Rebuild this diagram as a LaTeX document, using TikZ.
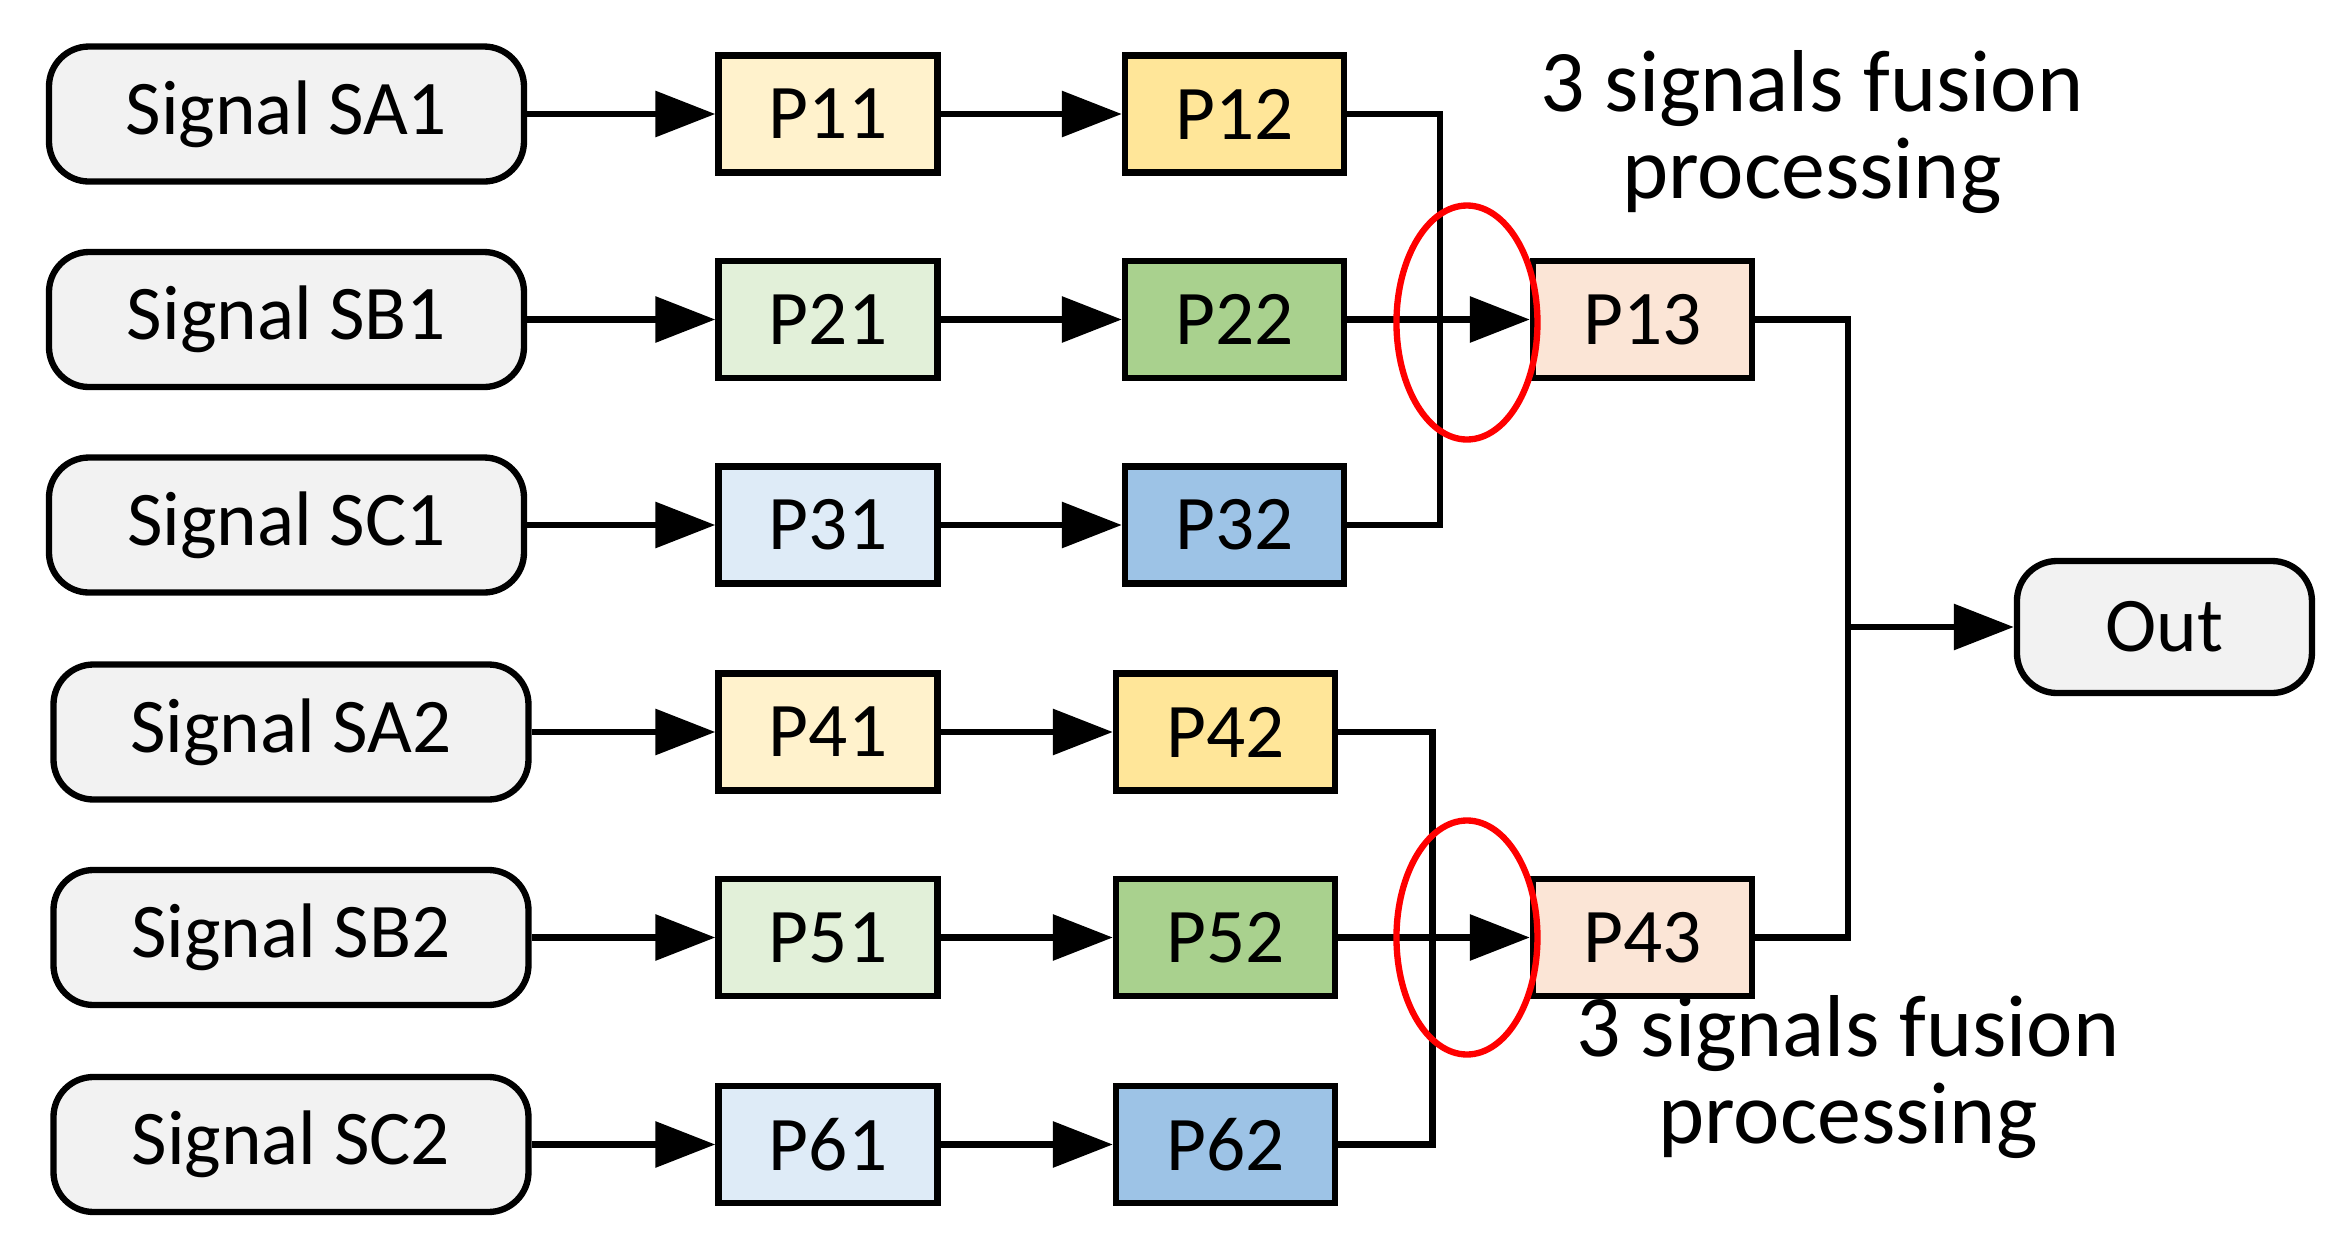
\documentclass[tikz,border=0pt]{standalone}
\usepackage{fontspec}
\setmainfont{Carlito}
\usetikzlibrary{arrows.meta}
\definecolor{sig}{HTML}{F2F2F2}
\definecolor{ya}{HTML}{FFF2CC}
\definecolor{yb}{HTML}{FFE699}
\definecolor{ga}{HTML}{E2F0D9}
\definecolor{gb}{HTML}{A9D18E}
\definecolor{ba}{HTML}{DEEBF7}
\definecolor{bb}{HTML}{9DC3E6}
\definecolor{oa}{HTML}{FBE5D6}
\begin{document}
\begin{tikzpicture}[x=0.015cm, y=-0.015cm,
        every node/.style={font=\fontsize{22}{24}\selectfont},
        signal/.style={draw, line width=1.8pt, rounded corners=0.4cm, fill=sig, minimum width=4.75cm, minimum height=1.35cm},
        proc/.style={draw, line width=1.8pt, minimum width=2.19cm, minimum height=1.17cm},
        flow/.style={line width=1.8pt, -{Triangle[length=0.6cm, width=0.45cm]}},
        wire/.style={line width=1.8pt}
        ]
        \useasboundingbox (0,0) rectangle (1558.7,826.7);
        % signal rows
        \foreach \n/\lab/\x/\px/\y/\ca/\cb in {1/SA1/191/823/76/ya/yb, 2/SB1/191/823/213/ga/gb, 3/SC1/191/823/350/ba/bb,
                                                4/SA2/194/817/488/ya/yb, 5/SB2/194/817/625/ga/gb, 6/SC2/194/817/763/ba/bb} {
          \node [signal] (s\n) at (\x,\y) {Signal \lab};
          \node [proc, fill=\ca] (p\n1) at (552,\y) {P\n1};
          \node [proc, fill=\cb] (p\n2) at (\px,\y) {P\n2};
          \draw [flow] (s\n) -- (p\n1);
          \draw [flow] (p\n1) -- (p\n2);
        }
        \node [proc, fill=oa] (p13) at (1095,213) {P13};
        \node [proc, fill=oa] (p43) at (1095,625) {P43};
        \node [signal, minimum width=2.95cm, minimum height=1.32cm] (out) at (1443,418) {Out};
        % fusion wiring
        \coordinate (ja) at (960,76);
        \coordinate (jb) at (960,350);
        \coordinate (jc) at (955,488);
        \coordinate (jd) at (955,763);
        \draw [wire] (p12) -- (ja) -- (jb) -- (p32);
        \draw [wire] (p42) -- (jc) -- (jd) -- (p62);
        \draw [flow] (p22) -- (p13);
        \draw [flow] (p52) -- (p43);
        \coordinate (ka) at (1232,213);
        \coordinate (kb) at (1232,625);
        \coordinate (km) at (1232,418);
        \draw [wire] (p13) -- (ka) -- (kb) -- (p43);
        \draw [flow] (km) -- (out);
        % markers
        \draw [red, line width=1.8pt] (978,215) ellipse [x radius=47, y radius=78];
        \draw [red, line width=1.8pt] (978,625) ellipse [x radius=47, y radius=78];
        \node [align=center, font=\fontsize{25}{25}\selectfont] (ta) at (1208,88) {3 signals fusion\\processing};
        \node [align=center, font=\fontsize{25}{25}\selectfont] (tb) at (1232,718) {3 signals fusion\\processing};
      \end{tikzpicture}
\end{document}
